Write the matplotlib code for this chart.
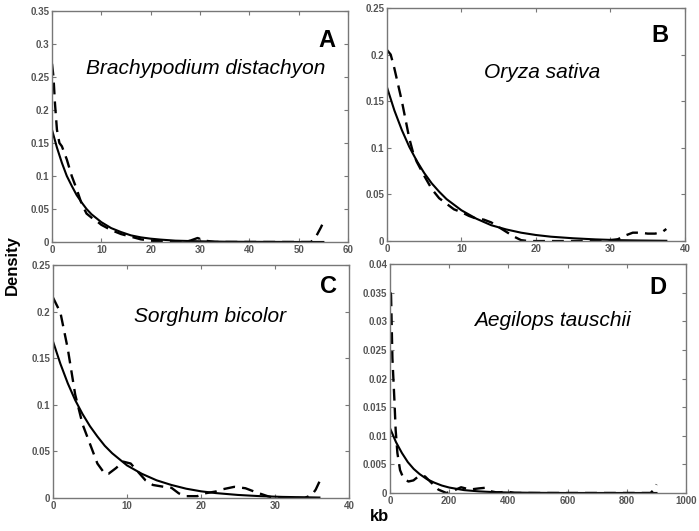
import matplotlib
matplotlib.use("Agg")
import matplotlib.pyplot as plt
from matplotlib.ticker import FuncFormatter, MultipleLocator

plt.rcParams['font.family'] = ['Liberation Sans', 'DejaVu Sans']

# ---- panel A: Brachypodium distachyon ----
a_fit_x = [0, 1, 2, 3, 4, 5, 6, 7, 8, 10, 12, 14, 16, 18, 20, 22, 25, 30, 35, 40, 45, 50, 55]
a_fit_y = [0.17, 0.143, 0.12, 0.10, 0.085, 0.071, 0.060, 0.050, 0.042, 0.030, 0.021, 0.015,
           0.010, 0.007, 0.005, 0.0036, 0.002, 0.001, 0.0004, 0.0002, 0.0001, 0.0, 0.0]
a_obs_x = [0, 0.3, 0.6, 1, 1.5, 2, 3, 4, 5, 6, 7, 8, 9, 10, 12, 14, 16, 18, 20, 22, 25, 28,
           29.5, 31, 33, 40, 50, 52.5, 53.5, 54.5, 55]
a_obs_y = [0.27, 0.25, 0.21, 0.17, 0.15, 0.145, 0.125, 0.10, 0.08, 0.058, 0.043, 0.037, 0.032,
           0.026, 0.018, 0.012, 0.008, 0.004, 0.002, 0.001, 0.0005, 0.002, 0.006, 0.002, 0, 0,
           0, 0, 0.008, 0.022, 0.03]

# ---- panel B: Oryza sativa ----
b_fit_x = [0, 1, 2, 3, 4, 5, 6, 7, 8, 10, 12, 14, 16, 18, 20, 22, 25, 28, 31, 34, 37.5]
b_fit_y = [0.165, 0.140, 0.119, 0.101, 0.086, 0.073, 0.062, 0.053, 0.045, 0.033, 0.024, 0.017,
           0.0125, 0.009, 0.0065, 0.0047, 0.003, 0.0018, 0.001, 0.0006, 0.0003]
b_obs_x = [0, 0.5, 1, 2, 2.5, 3, 3.5, 4, 5, 6, 7, 8, 9, 10, 11, 12, 13, 14, 15, 16, 17, 18,
           19, 25, 30, 31, 32, 33, 34, 35, 36, 37, 37.5]
b_obs_y = [0.205, 0.20, 0.185, 0.15, 0.13, 0.11, 0.095, 0.085, 0.07, 0.056, 0.046, 0.04, 0.034,
           0.031, 0.027, 0.024, 0.023, 0.02, 0.015, 0.01, 0.005, 0.001, 0, 0, 0.001, 0.002,
           0.006, 0.009, 0.009, 0.008, 0.008, 0.01, 0.013]

# ---- panel C: Sorghum bicolor ----
c_fit_x = [0, 1, 2, 3, 4, 5, 6, 7, 8, 10, 12, 14, 16, 18, 20, 22, 25, 28, 31, 34, 36]
c_fit_y = [0.168, 0.144, 0.123, 0.105, 0.09, 0.077, 0.066, 0.056, 0.048, 0.035, 0.026, 0.019,
           0.014, 0.010, 0.0072, 0.0053, 0.0033, 0.002, 0.0012, 0.0008, 0.0005]
c_obs_x = [0, 1, 2, 3, 4, 5, 6, 7, 7.5, 8.5, 9.5, 10.5, 11.5, 12.5, 13.5, 15, 16, 17, 18,
           19.5, 20.5, 22, 23, 24.5, 26, 27.5, 29, 30, 34, 35, 35.5, 36]
c_obs_y = [0.215, 0.199, 0.16, 0.111, 0.079, 0.058, 0.037, 0.026, 0.026, 0.032, 0.039, 0.037,
           0.028, 0.019, 0.014, 0.012, 0.011, 0.005, 0.002, 0.002, 0.005, 0.007, 0.0095, 0.012,
           0.0105, 0.006, 0.002, 0, 0, 0.0035, 0.009, 0.0175]

# ---- panel D: Aegilops tauschii ----
d_fit_x = [0, 20, 40, 60, 80, 100, 125, 150, 175, 200, 250, 300, 350, 400, 500, 600, 900]
d_fit_y = [0.0113, 0.0089, 0.0070, 0.0054, 0.0042, 0.0033, 0.0024, 0.0018, 0.0013, 0.00095,
           0.0005, 0.00028, 0.00015, 0.00008, 0.00002, 0, 0]
d_obs_x = [0, 3, 8, 14.6, 19, 24.8, 33.8, 45, 62, 79, 96, 118, 163, 190, 210, 240, 270, 300,
           320, 340, 360, 400, 420, 880, 890, 900]
d_obs_y = [0.033, 0.0355, 0.0235, 0.0164, 0.011, 0.007, 0.004, 0.0026, 0.002, 0.0022, 0.0029,
           0.0029, 0.0006, 0, 0.0003, 0.001, 0.0006, 0.0008, 0.0009, 0.0003, 0.0001, 0.0002, 0,
           0, 0.0005, 0.0015]

panels = [
    # rect, fit, obs, xlim, xstep, ylim, ystep, species, letter, species pos, letter pos
    ([0.0744, 0.5443, 0.4235, 0.435], (a_fit_x, a_fit_y), (a_obs_x, a_obs_y), 60, 10, 0.35, 0.05,
     'Brachypodium distachyon', 'A', (0.52, 0.753), (0.93, 0.874)),
    ([0.5536, 0.546, 0.4263, 0.439], (b_fit_x, b_fit_y), (b_obs_x, b_obs_y), 40, 10, 0.25, 0.05,
     'Oryza sativa', 'B', (0.52, 0.725), (0.916, 0.884)),
    ([0.0758, 0.0621, 0.4235, 0.439], (c_fit_x, c_fit_y), (c_obs_x, c_obs_y), 40, 10, 0.25, 0.05,
     'Sorghum bicolor', 'C', (0.53, 0.777), (0.93, 0.906)),
    ([0.558, 0.0716, 0.4235, 0.431], (d_fit_x, d_fit_y), (d_obs_x, d_obs_y), 1000, 200, 0.04, 0.005,
     'Aegilops tauschii', 'D', (0.55, 0.755), (0.905, 0.90)),
]

fig = plt.figure(figsize=(6.99, 5.31), dpi=100)
fmt = FuncFormatter(lambda v, pos: '%g' % round(v, 4))

for rect, fit, obs, xmax, xstep, ymax, ystep, species, letter, spos, lpos in panels:
    ax = fig.add_axes(rect)
    ax.plot(fit[0], fit[1], color='black', lw=1.5)
    ax.plot(obs[0], obs[1], color='black', lw=1.7, dashes=(5, 3))
    ax.set_xlim(0, xmax)
    ax.set_ylim(0, ymax)
    ax.xaxis.set_major_locator(MultipleLocator(xstep))
    ax.yaxis.set_major_locator(MultipleLocator(ystep))
    ax.xaxis.set_major_formatter(fmt)
    ax.yaxis.set_major_formatter(fmt)
    ax.tick_params(direction='in', length=3, top=True, right=True, labelsize=7,
                   labelcolor='#555555', color='#777777', pad=2)
    for lab in ax.get_xticklabels() + ax.get_yticklabels():
        lab.set_fontweight('bold')
    for sp in ax.spines.values():
        sp.set_color('#777777')
        sp.set_linewidth(1.0)
    ax.text(spos[0], spos[1], species, transform=ax.transAxes, ha='center', va='center',
            fontsize=15, style='italic')
    ax.text(lpos[0], lpos[1], letter, transform=ax.transAxes, ha='center', va='center',
            fontsize=17, fontweight='bold')

fig.text(0.017, 0.5, 'Density', rotation=90, ha='center', va='center',
         fontsize=12, fontweight='bold')
fig.text(0.543, 0.027, 'kb', ha='center', va='center', fontsize=12, fontweight='bold')

fig.savefig('out.png', dpi=100)
